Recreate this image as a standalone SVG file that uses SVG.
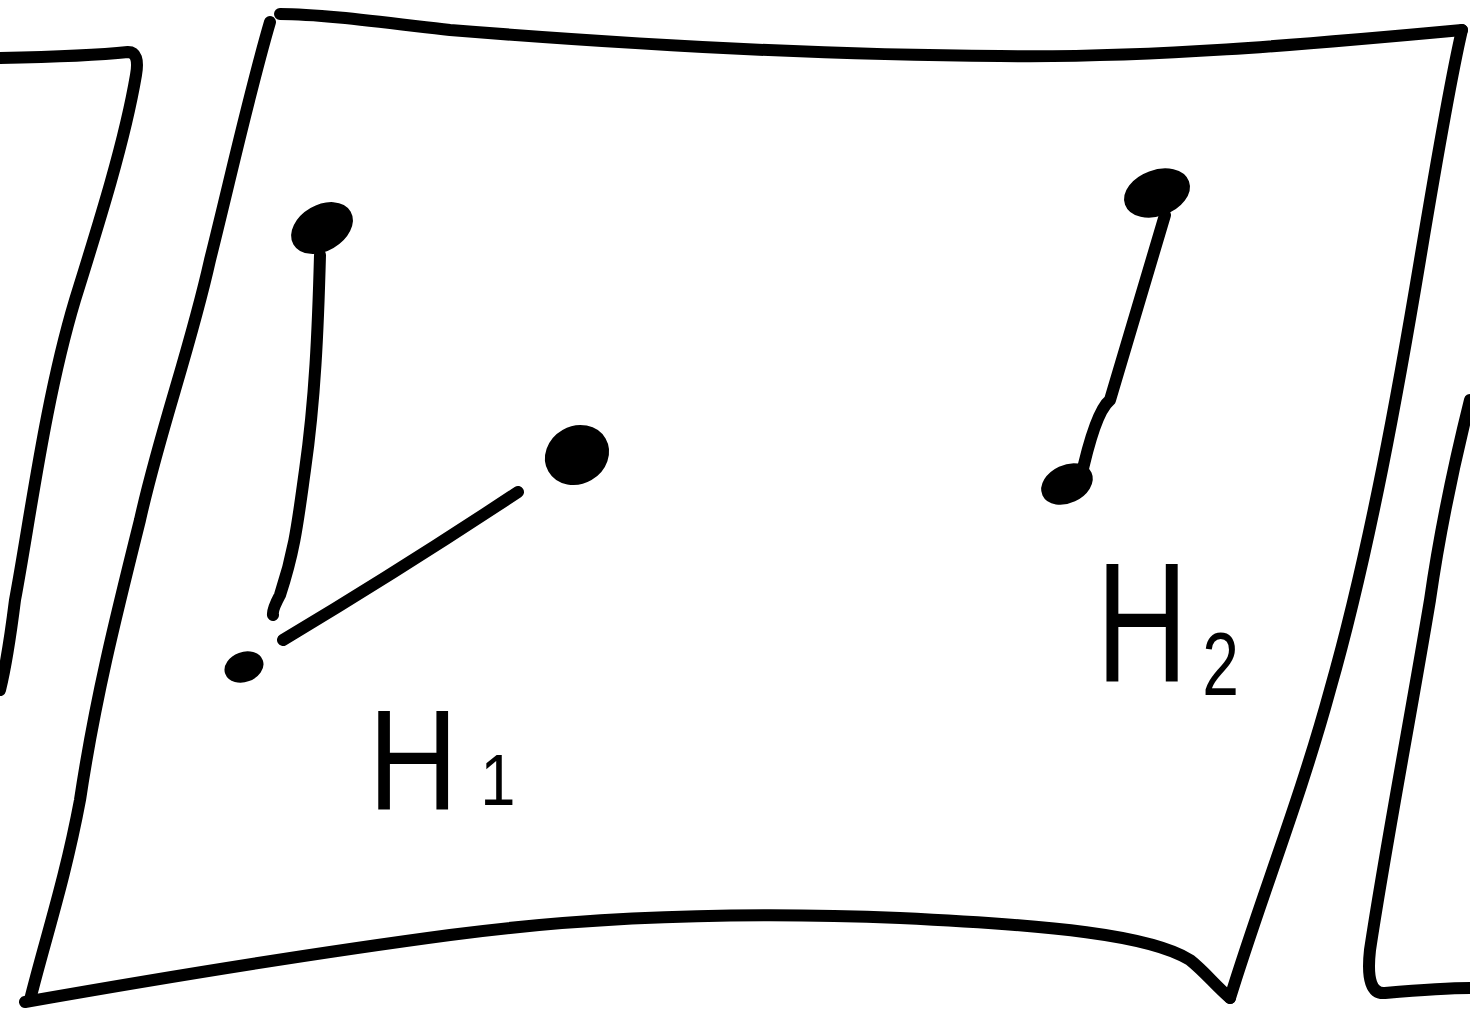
<svg xmlns="http://www.w3.org/2000/svg" width="1470" height="1009" viewBox="0 0 1470 1009">
<style>
.pen{fill:none;stroke:#000;stroke-width:12;stroke-linecap:round;stroke-linejoin:round}
.dot{fill:#000;stroke:#000;stroke-width:6}
.lbl{font-family:"Liberation Sans",Arial,sans-serif;fill:#000}
</style>
<rect width="1470" height="1009" fill="#fff"/>
<g id="panel-left">
<path class="pen" d="M0,58 C50,57 100,55 128,52 Q140,52 136,75 C125,140 100,220 75,300 C45,400 30,520 15,600 C10,640 5,670 0,690"/>
</g>
<g id="sheet">
<path class="pen" d="M270,22 C250,90 230,180 210,260 C190,350 160,430 140,520 C115,620 95,700 80,800 C65,880 45,940 30,1000"/>
<path class="pen" d="M25,1002 C150,980 300,955 450,935 C600,915 750,912 900,918 C1050,925 1150,935 1190,960 C1205,972 1215,985 1230,998"/>
<path class="pen" d="M1230,998 C1260,900 1300,800 1330,690 C1370,550 1400,380 1420,260 C1440,140 1455,60 1462,30"/>
<path class="pen" d="M1462,30 C1300,45 1150,58 1000,56 C800,55 600,42 450,30 C380,22 320,14 280,14"/>
</g>
<g id="panel-right">
<path class="pen" d="M1470,400 C1455,460 1440,530 1430,600 C1410,720 1385,850 1370,950 Q1365,995 1385,993 C1420,990 1450,988 1470,988"/>
</g>
<g id="connectors">
<path class="pen" d="M320,255 C318,330 315,400 305,470 C298,520 295,550 280,595 Q272,610 273,615"/>
<path class="pen" d="M283,640 Q400,570 518,492"/>
<path class="pen" d="M1165,215 L1110,400 Q1095,412 1080,482"/>
</g>
<g id="node-a"><ellipse class="dot" cx="322" cy="228" rx="30" ry="20" transform="rotate(-30 322 228)"/></g>
<g id="node-b"><ellipse class="dot" cx="244" cy="667" rx="17" ry="12" transform="rotate(-20 244 667)"/></g>
<g id="node-c"><ellipse class="dot" cx="577" cy="455" rx="30" ry="26" transform="rotate(-30 577 455)"/></g>
<g id="node-d"><ellipse class="dot" cx="1157" cy="193" rx="31" ry="20" transform="rotate(-20 1157 193)"/></g>
<g id="node-e"><ellipse class="dot" cx="1067" cy="484" rx="24" ry="16" transform="rotate(-25 1067 484)"/></g>
<g id="label-h1">
<text class="lbl" transform="translate(368,810) scale(0.88,1)" font-size="142">H<tspan font-size="72" dx="25" dy="-5">1</tspan></text>
</g>
<g id="label-h2">
<text class="lbl" transform="translate(1096,682) scale(0.75,1)" font-size="170">H<tspan font-size="88" dx="19" dy="13">2</tspan></text>
</g>
</svg>
